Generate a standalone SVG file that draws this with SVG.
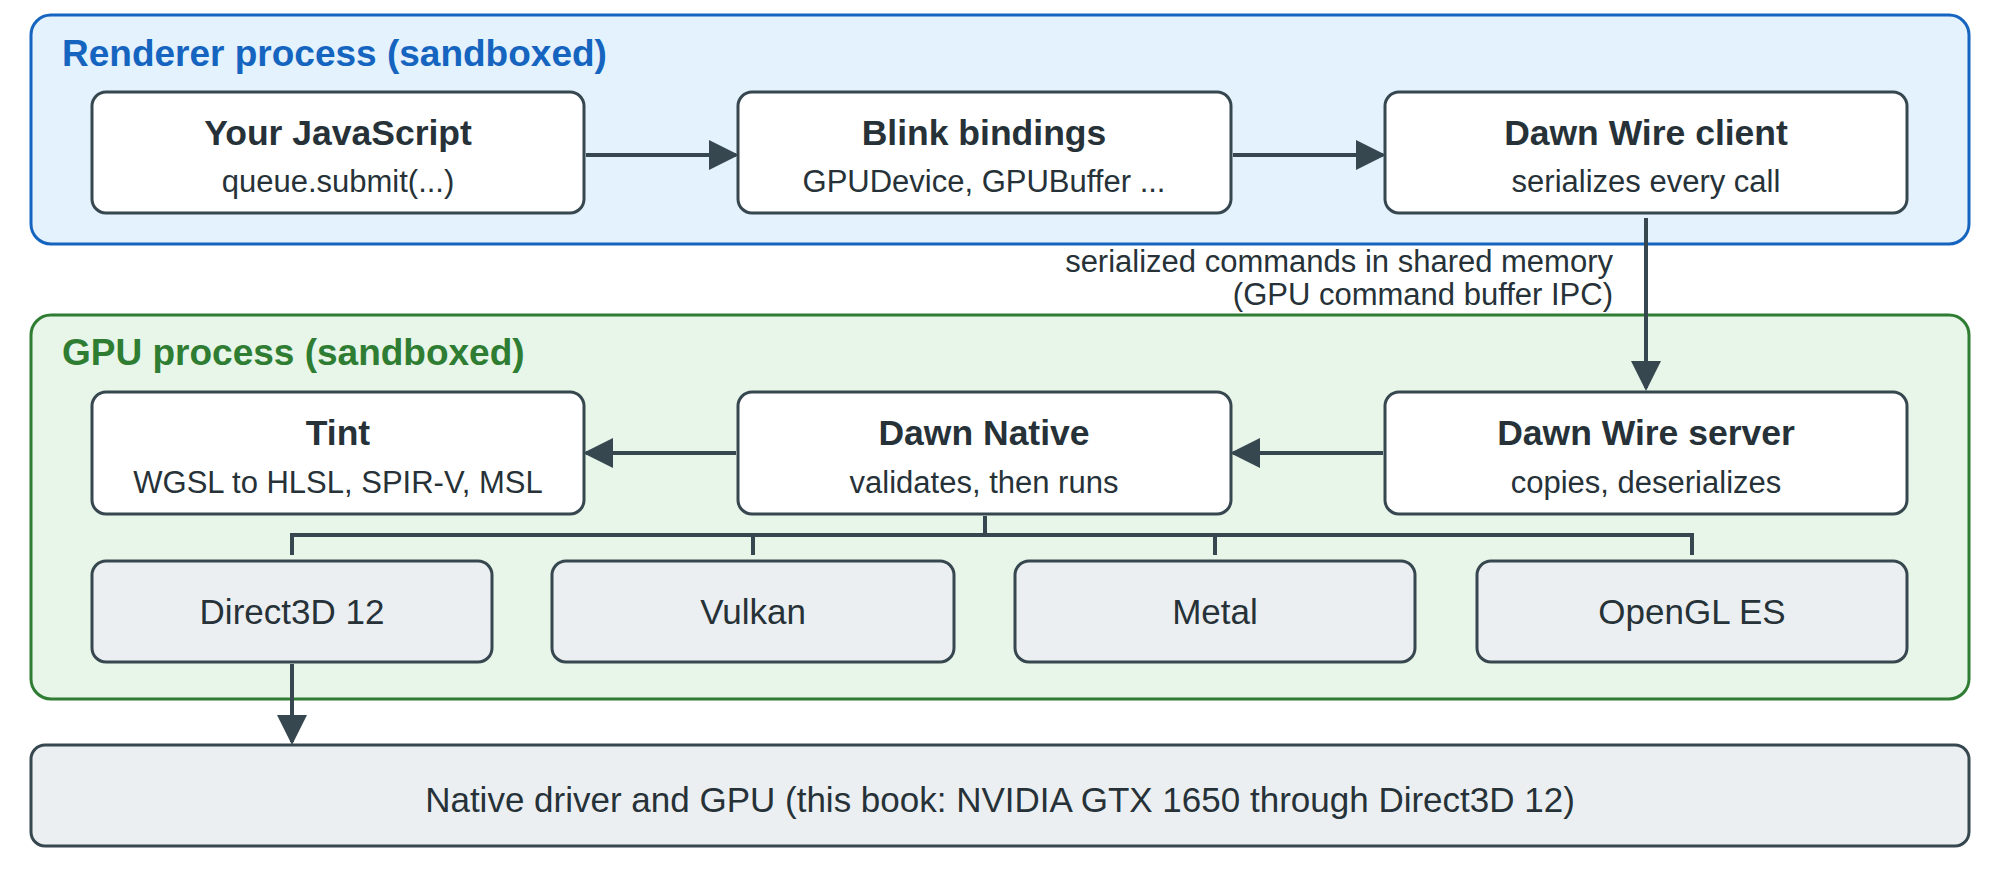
<svg xmlns="http://www.w3.org/2000/svg" width="2000" height="869" viewBox="0 0 2000 869">
<style>
text{font-family:"Liberation Sans",Arial,sans-serif;text-anchor:middle;fill:#263238}
.n{fill:#fff;stroke:#37474f;stroke-width:3}
.b{fill:#eceff1;stroke:#37474f;stroke-width:3}
.t{font-size:35.5px;font-weight:bold}
.s{font-size:31px}
.k{font-size:35px}
.c{stroke:#37474f;stroke-width:4;fill:none}
</style>
<defs><marker id="a" viewBox="0 0 10 10" refX="9" refY="5" markerWidth="7.5" markerHeight="7.5" orient="auto" markerUnits="strokeWidth"><path d="M0,0L10,5L0,10z" fill="#37474f"/></marker></defs>
<g id="renderer"><rect x="31" y="15" width="1938" height="229" rx="20" fill="#e3f2fd" stroke="#1565c0" stroke-width="3"/>
<text x="62" y="66" style="text-anchor:start;fill:#1565c0;font-size:37px;font-weight:bold">Renderer process (sandboxed)</text></g>
<g id="gpu"><rect x="31" y="315" width="1938" height="384" rx="20" fill="#e8f5e9" stroke="#2e7d32" stroke-width="3"/>
<text x="62" y="365" style="text-anchor:start;fill:#2e7d32;font-size:37px;font-weight:bold">GPU process (sandboxed)</text></g>
<g id="js"><rect class="n" x="92" y="92" width="492" height="121" rx="14"/><text class="t" x="338" y="145">Your JavaScript</text><text class="s" x="338" y="192">queue.submit(...)</text></g>
<g id="blink"><rect class="n" x="738" y="92" width="493" height="121" rx="14"/><text class="t" x="984" y="145">Blink bindings</text><text class="s" x="984" y="192">GPUDevice, GPUBuffer ...</text></g>
<g id="client"><rect class="n" x="1385" y="92" width="522" height="121" rx="14"/><text class="t" x="1646" y="145">Dawn Wire client</text><text class="s" x="1646" y="192">serializes every call</text></g>
<g id="tint"><rect class="n" x="92" y="392" width="492" height="122" rx="14"/><text class="t" x="338" y="445">Tint</text><text class="s" x="338" y="493">WGSL to HLSL, SPIR-V, MSL</text></g>
<g id="native"><rect class="n" x="738" y="392" width="493" height="122" rx="14"/><text class="t" x="984" y="445">Dawn Native</text><text class="s" x="984" y="493">validates, then runs</text></g>
<g id="server"><rect class="n" x="1385" y="392" width="522" height="122" rx="14"/><text class="t" x="1646" y="445">Dawn Wire server</text><text class="s" x="1646" y="493">copies, deserializes</text></g>
<g id="d3d"><rect class="b" x="92" y="561" width="400" height="101" rx="14"/><text class="k" x="292" y="624">Direct3D 12</text></g>
<g id="vulkan"><rect class="b" x="552" y="561" width="402" height="101" rx="14"/><text class="k" x="753" y="624">Vulkan</text></g>
<g id="metal"><rect class="b" x="1015" y="561" width="400" height="101" rx="14"/><text class="k" x="1215" y="624">Metal</text></g>
<g id="opengl"><rect class="b" x="1477" y="561" width="430" height="101" rx="14"/><text class="k" x="1692" y="624">OpenGL ES</text></g>
<g id="driver"><rect class="b" x="31" y="745" width="1938" height="101" rx="14"/><text x="1000" y="812" style="font-size:35px">Native driver and GPU (this book: NVIDIA GTX 1650 through Direct3D 12)</text></g>
<g id="connectors">
<line class="c" x1="586" y1="155" x2="736" y2="155" marker-end="url(#a)"/>
<line class="c" x1="1233" y1="155" x2="1383" y2="155" marker-end="url(#a)"/>
<line class="c" x1="1646" y1="218" x2="1646" y2="388" marker-end="url(#a)"/>
<text x="1613" y="272" class="s" style="text-anchor:end">serialized commands in shared memory</text>
<text x="1613" y="305" class="s" style="text-anchor:end">(GPU command buffer IPC)</text>
<line class="c" x1="1383" y1="453" x2="1233" y2="453" marker-end="url(#a)"/>
<line class="c" x1="736" y1="453" x2="586" y2="453" marker-end="url(#a)"/>
<path class="c" d="M985 516V535M292 555V535H1692V555M753 535V555M1215 535V555"/>
<line class="c" x1="292" y1="664" x2="292" y2="742" marker-end="url(#a)"/>
</g>
</svg>
